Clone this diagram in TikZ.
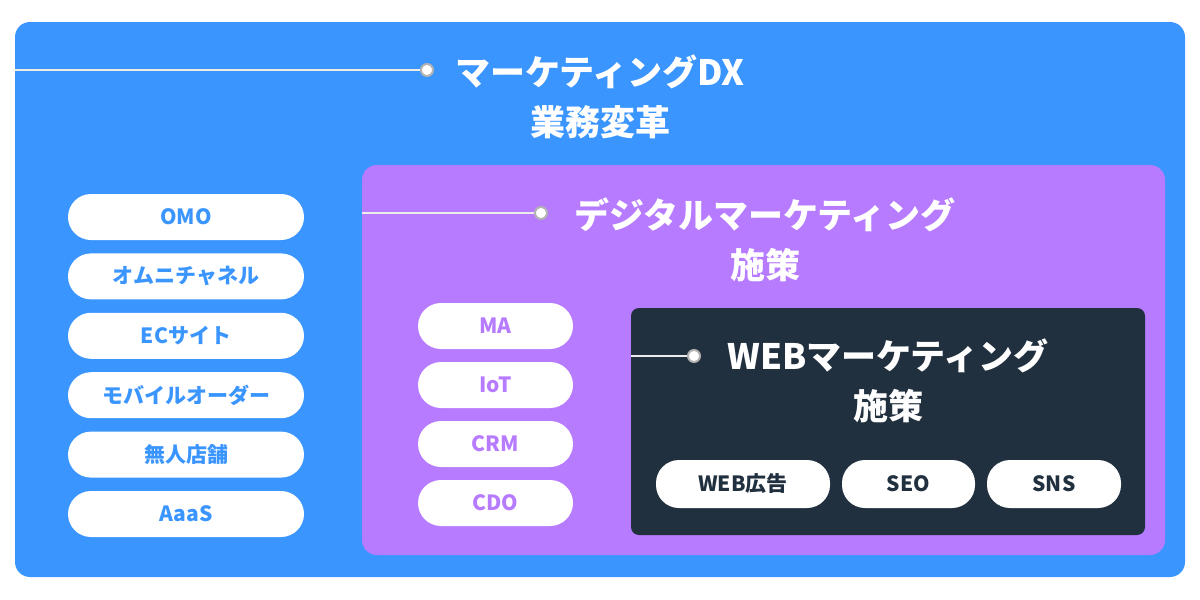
\documentclass[tikz,border=0pt]{standalone}
\usepackage{fontspec}
\setmainfont{Noto Sans CJK JP}
\begin{document}
\begin{tikzpicture}[x=1pt,y=-1pt,font=\bfseries,
  pill/.style={fill=white,rounded corners=23pt,minimum height=46pt,inner sep=0pt,font=\bfseries\fontsize{21}{24}\selectfont},
  title/.style={text=white,align=center,font=\bfseries\fontsize{35}{50}\selectfont},
  conn/.style={line width=1.6pt,draw=white!85!gray},
  dot/.style={circle,fill=white,draw=gray!60,line width=2pt,minimum size=12pt,inner sep=0pt}]
\definecolor{bluebg}{HTML}{3A95FF}
\definecolor{purp}{HTML}{B77BFF}
\definecolor{dark}{HTML}{21303F}
\useasboundingbox (0,0) rectangle (1200,600);
\fill[white] (0,0) rectangle (1200,600);
\fill[bluebg,rounded corners=15pt] (15,22) rectangle (1185,577);
\coordinate (b0) at (15,70);
\node[dot] (bd) at (427,70) {};
\draw[conn] (b0) -- (bd);
\node[title] (bt) at (600,97) {マーケティングDX\\業務変革};
\foreach \t [count=\i] in {OMO,オムニチャネル,ECサイト,モバイルオーダー,無人店舗,AaaS}{
  \node[pill,minimum width=236pt,text=bluebg] (l\i) at (186,{217+59.4*(\i-1)}) {\t};}
\fill[purp,rounded corners=15pt] (362,165) rectangle (1165,555);
\coordinate (p0) at (362,213);
\node[dot] (pd) at (541,213) {};
\draw[conn] (p0) -- (pd);
\node[title] (pt) at (765,240) {デジタルマーケティング\\施策};
\foreach \t [count=\i] in {MA,IoT,CRM,CDO}{
  \node[pill,minimum width=155pt,text=purp] (m\i) at (495.5,{326+59*(\i-1)}) {\t};}
\fill[dark,rounded corners=8pt] (631,308) rectangle (1145,535);
\coordinate (d0) at (631,356);
\node[dot] (dd) at (694,356) {};
\draw[conn] (d0) -- (dd);
\node[title] (dt) at (888,381) {WEBマーケティング\\施策};
\node[pill,minimum width=174pt,minimum height=48pt,text=dark] (w1) at (743,484) {WEB広告};
\node[pill,minimum width=133pt,minimum height=48pt,text=dark] (w2) at (908.5,484) {SEO};
\node[pill,minimum width=134pt,minimum height=48pt,text=dark] (w3) at (1054,484) {SNS};
\end{tikzpicture}
\end{document}
